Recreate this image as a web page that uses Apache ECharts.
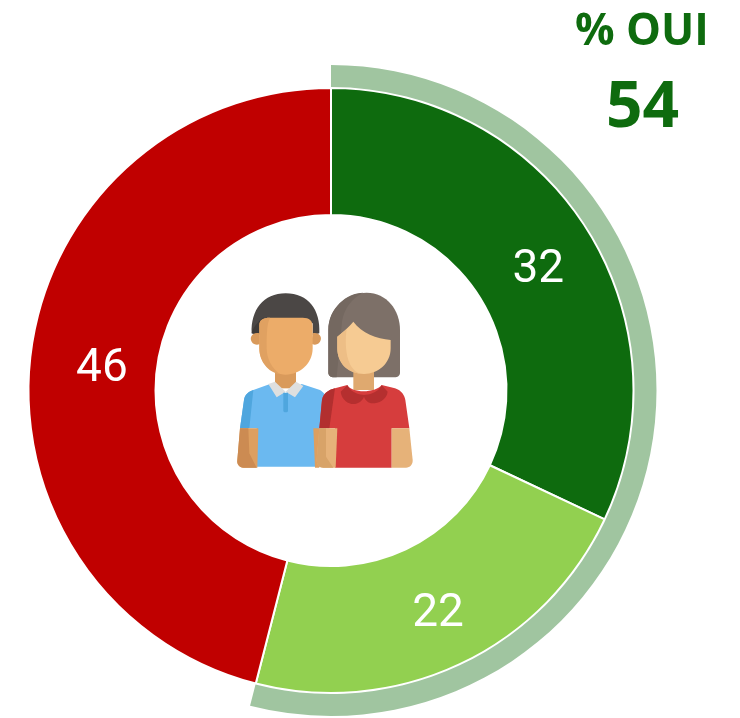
<!DOCTYPE html>
<html><head><meta charset="utf-8">
<script src="https://cdn.jsdelivr.net/npm/echarts@6/dist/echarts.min.js"></script>
<style>html,body{margin:0;padding:0;background:#fff}#c{width:740px;height:718px}</style></head>
<body><div id="c"></div>
<script>
const categories = ['Oui tout à fait', 'Oui plutôt', 'Non'];
const values = [32, 22, 46];
const summaryLabel = '% OUI';
const summaryValues = [54, 46];
const colors = ['#0E6B0E', '#92D050', '#C00000'];

let shapeId = 0;
const P = (d, fill) => {
  const name = 'iconPart' + (shapeId++);
  echarts.graphic.registerShape(name, echarts.graphic.extendPath(d, {}));
  return { type: name, style: { fill } };
};
const iconParts = [
  // man
  P('M95 160 C92 90 130 40 197 40 C265 40 302 90 298 160 L278 165 L278 130 L118 130 L118 165 Z', '#4B4745'),
  P('M132 112 C112 125 98 145 95 160 L118 165 Z', '#3E3A38'),
  P('M118 160 C95 155 88 175 95 185 C102 197 118 195 122 190 Z', '#D99A5B'),
  P('M278 160 C300 155 308 175 300 185 C292 197 278 195 274 190 Z', '#D99A5B'),
  P('M165 262 L228 262 L228 325 L165 325 Z', '#D99A5B'),
  P('M118 135 C118 120 130 113 150 113 L248 113 C268 113 278 122 278 140 L278 205 C278 250 240 284 197 284 C155 284 118 250 118 205 Z', '#ECAC69'),
  P('M118 135 C118 120 130 113 150 113 C142 130 140 150 140 205 C140 235 155 265 180 283 C145 278 118 245 118 205 Z', '#E0A161'),
  P('M100 330 L150 312 L197 340 L245 312 L300 330 C315 340 320 350 320 365 L300 560 L110 560 L110 445 L60 445 L72 360 C74 345 85 335 100 330 Z', '#6BB9F0'),
  P('M100 330 C85 335 74 345 72 360 L60 445 L88 445 Z', '#4FA6DE'),
  P('M145 312 L165 305 L197 335 L228 305 L250 318 L225 352 L197 335 L170 352 Z', '#DEDFDF'),
  P('M190 338 L204 338 L204 392 C204 398 190 398 190 392 Z', '#4FA6DE'),
  P('M60 445 L115 445 L112 563 L70 563 C58 563 50 552 52 540 Z', '#DD9F60'),
  P('M60 445 L85 445 L88 520 L110 563 L70 563 C58 563 50 552 52 540 Z', '#CC8B52'),
  P('M280 445 L298 445 L298 563 L285 563 Z', '#DD9F60'),
  // woman
  P('M325 150 C325 85 380 38 440 38 C500 38 540 90 540 150 L540 278 C540 287 532 292 524 292 L342 292 C332 292 325 286 325 278 Z', '#7D7068'),
  P('M325 150 C325 85 380 38 430 38 C395 55 372 85 366 125 L350 292 L342 292 C332 292 325 286 325 278 Z', '#746860'),
  P('M400 262 L462 262 L462 330 L400 330 Z', '#DFA96F'),
  P('M352 170 C370 155 388 140 400 125 C425 160 470 175 512 180 L512 205 C512 250 475 282 432 282 C388 282 352 250 352 205 Z', '#F6CB93'),
  P('M352 170 C362 162 372 155 380 147 C376 175 376 210 385 240 C392 262 405 275 420 281 C382 278 352 250 352 205 Z', '#EDBE86'),
  P('M345 325 L382 315 C395 340 465 340 485 315 L525 325 C545 332 553 345 556 360 L568 445 L515 445 L515 563 L345 563 L345 445 L298 445 L306 360 C310 340 325 330 345 325 Z', '#D63D3D'),
  P('M345 325 C325 330 310 340 306 360 L298 445 L328 445 Z', '#B22F2F'),
  P('M362 335 L382 316 C395 340 420 345 432 345 C445 345 472 340 485 316 L503 335 C500 360 475 370 458 370 C445 370 435 360 432 350 C428 362 415 372 400 372 C385 372 365 360 362 335 Z', '#B52F2F'),
  P('M298 445 L352 445 L347 563 L310 563 C298 563 290 555 290 540 Z', '#E6B279'),
  P('M298 445 L318 445 L318 530 L340 563 L310 563 C298 563 290 555 290 540 Z', '#D8A368'),
  P('M515 445 L568 445 L578 540 C579 553 570 563 558 563 L515 563 Z', '#E6B279')
];

const labelOffsets = [[3, 10], [4, 5], [11, 9]];
const chart = echarts.init(document.getElementById('c'));
chart.setOption({
  animation: false,
  backgroundColor: '#fff',
  series: [
    {
      type: 'pie', center: [331, 390.5], radius: [175.5, 302.5], startAngle: 90, clockwise: true,
      avoidLabelOverlap: false, silent: true,
      itemStyle: { borderColor: '#fff', borderWidth: 2 },
      label: {
        show: true, position: 'inside', formatter: '{c}', color: '#fff',
        fontFamily: 'Roboto', fontSize: 46, fontWeight: 400
      },
      labelLine: { show: false },
      data: categories.map((name, i) => ({ name, value: values[i], itemStyle: { color: colors[i] }, label: { offset: labelOffsets[i] } }))
    },
    {
      type: 'pie', center: [331, 390.5], radius: [303.5, 325.5], startAngle: 90, clockwise: true,
      silent: true, label: { show: false }, labelLine: { show: false },
      data: [
        { name: 'OUI', value: summaryValues[0], itemStyle: { color: '#A0C5A0' } },
        { name: 'reste', value: summaryValues[1], itemStyle: { color: 'transparent' } }
      ]
    }
  ],
  graphic: [
    { type: 'text', left: 575, top: 10, style: { text: summaryLabel, fontFamily: 'Open Sans', fontWeight: 700, fontSize: 44, fill: '#0E6B0E' } },
    { type: 'text', left: 606, top: 77, style: { text: String(summaryValues[0]), fontFamily: 'Open Sans', fontWeight: 700, fontSize: 64, fill: '#0E6B0E' } },
    { type: 'group', x: 220, y: 280, scaleX: 1 / 3, scaleY: 1 / 3, children: iconParts }
  ]
});
</script></body></html>
